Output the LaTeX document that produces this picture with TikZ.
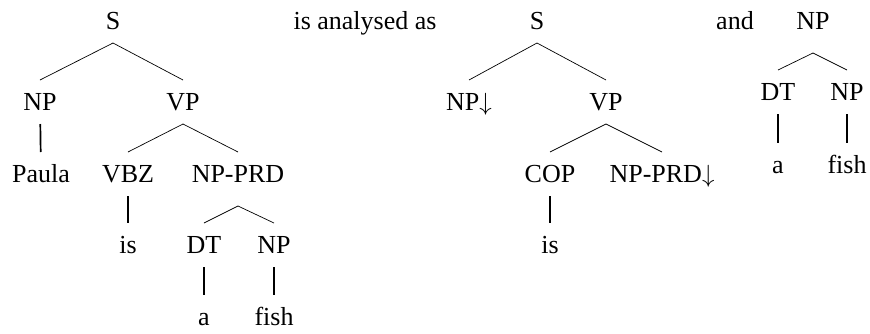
\documentclass[tikz,border=0pt]{standalone}
\usepackage{fontspec}
\setmainfont{Liberation Serif}
\begin{document}
\begin{tikzpicture}[
  x = 1pt,
  y = -1pt,
  cat/.style = {
    font = \fontsize{26}{31}\selectfont,
    anchor = base,
    inner sep = 0pt,
    outer xsep = 0pt,
    outer ysep = 14pt,
    text height = 16pt,
    text depth = 0pt,
  },
  branch/.style = { line width = 0.7pt },
  unary/.style = { line width = 1.7pt }
]
  \useasboundingbox (0, 0) rectangle (870, 333);

  % first tree
  \node[cat] (s1)   at (113, 29)  {S};
  \node[cat] (np1)  at (40, 110)  {NP};
  \node[cat] (vp1)  at (183, 110) {VP};
  \node[cat] (pau)  at (41, 182)  {Paula};
  \node[cat] (vbz)  at (128, 182) {VBZ};
  \node[cat] (prd1) at (238, 182) {NP-PRD};
  \node[cat] (is1)  at (128, 253) {is};
  \node[cat] (dt1)  at (204, 253) {DT};
  \node[cat] (np2)  at (274, 253) {NP};
  \node[cat] (a1)   at (204, 325) {a};
  \node[cat] (fi1)  at (274, 325) {fish};

  \node[cat] (txt1) at (365, 29)  {is analysed as};

  % second tree
  \node[cat] (s2)   at (537, 29)  {S};
  \node[cat] (np3)  at (469, 110) {NP$\downarrow$};
  \node[cat] (vp2)  at (606, 110) {VP};
  \node[cat] (cop)  at (550, 182) {COP};
  \node[cat] (prd2) at (662, 182) {NP-PRD$\downarrow$};
  \node[cat] (is2)  at (550, 253) {is};

  \node[cat] (txt2) at (735, 29)  {and};

  % third tree
  \node[cat] (np4)  at (813, 29)  {NP};
  \node[cat] (dt2)  at (778, 100) {DT};
  \node[cat] (np5)  at (847, 100) {NP};
  \node[cat] (a2)   at (778, 173) {a};
  \node[cat] (fi2)  at (847, 173) {fish};

  \begin{scope}[every path/.style = { branch }]
    \draw (np1.north) -- (s1.south) -- (vp1.north);
    \draw (vbz.north) -- (vp1.south) -- (prd1.north);
    \draw (dt1.north) -- ([yshift = -10pt] prd1.south) -- (np2.north);
    \draw (np3.north) -- (s2.south) -- (vp2.north);
    \draw (cop.north) -- (vp2.south) -- (prd2.north);
    \draw (dt2.north) -- ([yshift = -10pt] np4.south) -- (np5.north);
  \end{scope}

  \begin{scope}[every path/.style = { unary }]
    \draw (np1) -- (pau);
    \draw (vbz) -- (is1);
    \draw (dt1) -- (a1);
    \draw (np2) -- (fi1);
    \draw (cop) -- (is2);
    \draw (dt2) -- (a2);
    \draw (np5) -- (fi2);
  \end{scope}
\end{tikzpicture}
\end{document}
